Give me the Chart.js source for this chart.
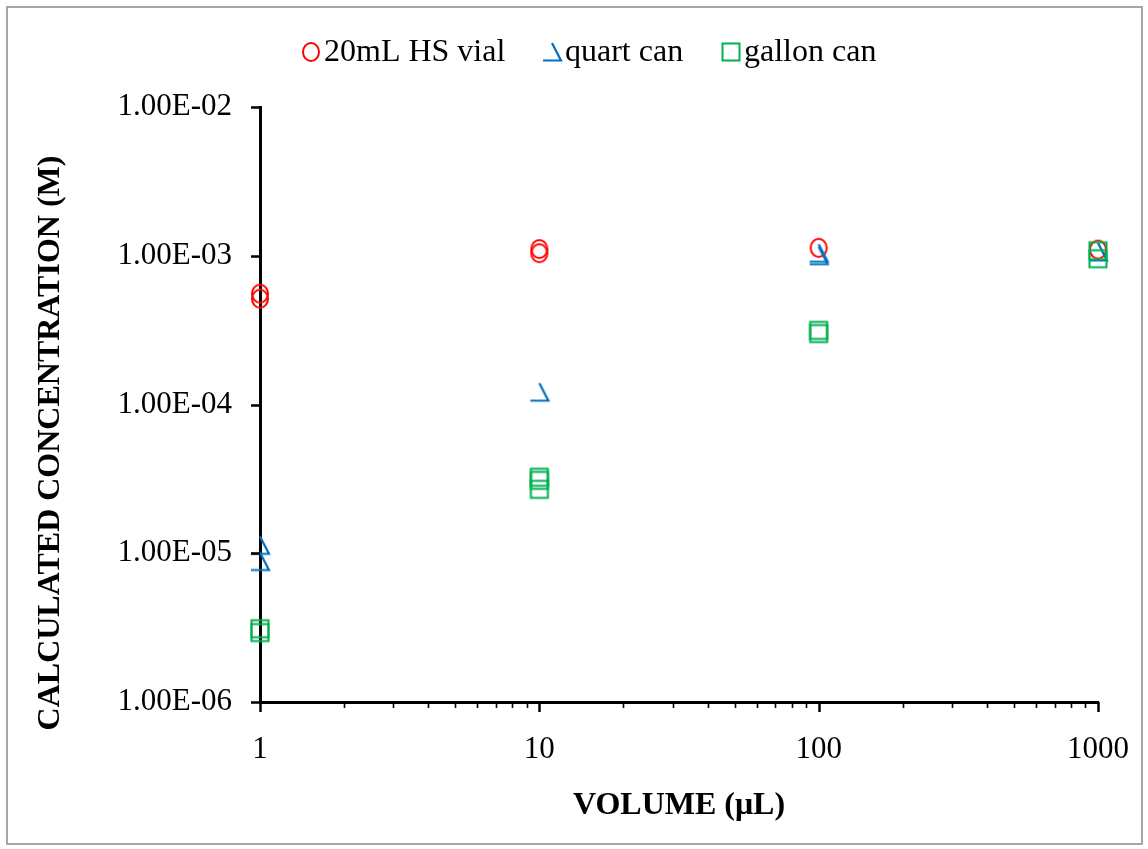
<!DOCTYPE html>
<html>
<head>
<meta charset="utf-8">
<script src="https://cdn.jsdelivr.net/npm/chart.js@4.4.1/dist/chart.umd.min.js"></script>
<style>
    html, body { margin: 0; padding: 0; background: #fff; }
    #wrap { position: relative; width: 1148px; height: 849px; }
    #chart { position: absolute; left: 0; top: 0; }
    #frame { position: absolute; left: 6px; top: 6px; width: 1133px; height: 835px; border: 2px solid #a6a6a6; pointer-events: none; }
</style>
</head>
<body>
<div id="wrap">
    <canvas id="chart" width="1148" height="849"></canvas>
    <div id="frame"></div>
</div>
<script>
// series names
const seriesNames = ['20mL HS vial', 'quart can', 'gallon can'];

// 20mL HS vial
const vialVolume = [1, 1, 10, 10, 100, 1000];
const vialConc = [5.56e-4, 5.14e-4, 1.11e-3, 1.04e-3, 1.13e-3, 1.10e-3];

// quart can
const quartVolume = [1, 1, 10, 100, 100, 1000];
const quartConc = [1.13e-5, 8.8e-6, 1.21e-4, 1.04e-3, 1.0e-3, 1.06e-3];

// gallon can
const gallonVolume = [1, 1, 10, 10, 10, 100, 100, 1000, 1000];
const gallonConc = [3.11e-6, 2.93e-6, 3.24e-5, 3.09e-5, 2.69e-5, 3.15e-4, 3.0e-4, 1.08e-3, 9.55e-4];

// axes
const xTicks = [1, 10, 100, 1000];
const xTickLabels = ['1', '10', '100', '1000'];
const xMinorTicks = [2, 3, 4, 5, 6, 7, 8, 9, 20, 30, 40, 50, 60, 70, 80, 90, 200, 300, 400, 500, 600, 700, 800, 900];
const yTicks = [1e-6, 1e-5, 1e-4, 1e-3, 1e-2];
const yTickLabels = ['1.00E-06', '1.00E-05', '1.00E-04', '1.00E-03', '1.00E-02'];

const FONT = '"Liberation Serif", "Times New Roman", serif';

function makeMarker(kind, color) {
    const c = document.createElement('canvas');
    c.width = 24;
    c.height = 24;
    const g = c.getContext('2d');
    g.strokeStyle = color;
    g.lineWidth = 2;
    if (kind === 'circle') {
        g.beginPath();
        g.ellipse(12, 12, 8, 9, 0, 0, Math.PI * 2);
        g.stroke();
    } else if (kind === 'square') {
        g.strokeRect(3.5, 3.5, 17, 17);
    } else {
        // triangle drawn without its left side
        g.lineWidth = 2.2;
        g.beginPath();
        g.moveTo(12, 3);
        g.lineTo(21, 20.5);
        g.lineTo(3, 20.5);
        g.stroke();
    }
    return c;
}

const markers = [
    makeMarker('circle', '#ff0000'),
    makeMarker('triangle', '#0070c0'),
    makeMarker('square', '#00b050')
];

// legend marker centres
const legendX = [311, 552, 731];

function toPoints(xs, ys) {
    return xs.map((x, i) => ({ x: x, y: ys[i] }));
}

// tick marks drawn outside the plot
const tickMarks = {
    id: 'tickMarks',
    afterDraw(chart) {
        const { ctx, chartArea: a } = chart;
        const xs = chart.scales.x, ys = chart.scales.y;
        ctx.save();
        ctx.strokeStyle = '#000';
        ctx.lineWidth = 2.5;
        ctx.beginPath();
        yTicks.forEach(v => {
            const py = Math.round(ys.getPixelForValue(v)) + 0.5;
            ctx.moveTo(a.left - 9, py);
            ctx.lineTo(a.left, py);
        });
        xTicks.forEach(v => {
            const px = Math.round(xs.getPixelForValue(v)) + 0.5;
            ctx.moveTo(px, a.bottom);
            ctx.lineTo(px, a.bottom + 10);
        });
        ctx.stroke();
        ctx.lineWidth = 1.6;
        ctx.beginPath();
        xMinorTicks.forEach(v => {
            const px = Math.round(xs.getPixelForValue(v)) + 0.5;
            ctx.moveTo(px, a.bottom);
            ctx.lineTo(px, a.bottom + 6);
        });
        ctx.stroke();
        ctx.restore();
    }
};

// y title and legend
const extras = {
    id: 'extras',
    afterDraw(chart) {
        const ctx = chart.ctx;
        ctx.save();
        ctx.fillStyle = '#000';
        ctx.font = 'bold 32px ' + FONT;
        ctx.textAlign = 'center';
        ctx.textBaseline = 'middle';
        ctx.translate(51, 443);
        ctx.rotate(-Math.PI / 2);
        ctx.fillText('CALCULATED CONCENTRATION (M)', 0, 0);
        ctx.restore();

        ctx.save();
        ctx.fillStyle = '#000';
        ctx.font = '32px ' + FONT;
        ctx.textAlign = 'left';
        ctx.textBaseline = 'middle';
        const y = 52;
        seriesNames.forEach((name, i) => {
            const m = markers[i];
            ctx.drawImage(m, legendX[i] - m.width / 2, y - m.height / 2);
            ctx.fillText(name, legendX[i] + 13, y + 1);
        });
        ctx.restore();
    }
};

const ctx = document.getElementById('chart').getContext('2d');
new Chart(ctx, {
    type: 'scatter',
    data: {
        datasets: [
            { label: seriesNames[0], data: toPoints(vialVolume, vialConc), pointStyle: markers[0], pointRadius: 8, order: 3, clip: false },
            { label: seriesNames[1], data: toPoints(quartVolume, quartConc), pointStyle: markers[1], pointRadius: 8, order: 2, clip: false },
            { label: seriesNames[2], data: toPoints(gallonVolume, gallonConc), pointStyle: markers[2], pointRadius: 8, order: 1, clip: false }
        ]
    },
    options: {
        responsive: false,
        animation: false,
        layout: { padding: { left: 0, right: 50, top: 107, bottom: 0 } },
        plugins: {
            legend: { display: false },
            tooltip: { enabled: false }
        },
        scales: {
            x: {
                type: 'logarithmic',
                min: 1,
                max: 1000,
                afterBuildTicks: s => { s.ticks = xTicks.map(v => ({ value: v })); },
                afterFit: s => {
                    s.height = 147;
                    s.paddingLeft = 0;
                    s.paddingRight = 0;
                },
                ticks: {
                    callback: (v, i) => xTickLabels[i],
                    font: { family: FONT, size: 31 },
                    color: '#000',
                    padding: 29,
                    maxRotation: 0,
                    autoSkip: false
                },
                grid: { display: true, drawOnChartArea: false, drawTicks: false },
                border: { display: true, color: '#000', width: 3 },
                title: {
                    display: true,
                    text: 'VOLUME (μL)',
                    font: { family: FONT, size: 32, weight: 'bold' },
                    color: '#000',
                    padding: { top: 0, bottom: 24 }
                }
            },
            y: {
                type: 'logarithmic',
                min: 1e-6,
                max: 1e-2,
                afterBuildTicks: s => { s.ticks = yTicks.map(v => ({ value: v })); },
                afterFit: s => { s.width = 260; },
                ticks: {
                    callback: (v, i) => yTickLabels[i],
                    font: { family: FONT, size: 31 },
                    color: '#000',
                    padding: 28,
                    autoSkip: false
                },
                grid: { display: true, drawOnChartArea: false, drawTicks: false },
                border: { display: true, color: '#000', width: 3 }
            }
        }
    },
    plugins: [tickMarks, extras]
});
</script>
</body>
</html>
